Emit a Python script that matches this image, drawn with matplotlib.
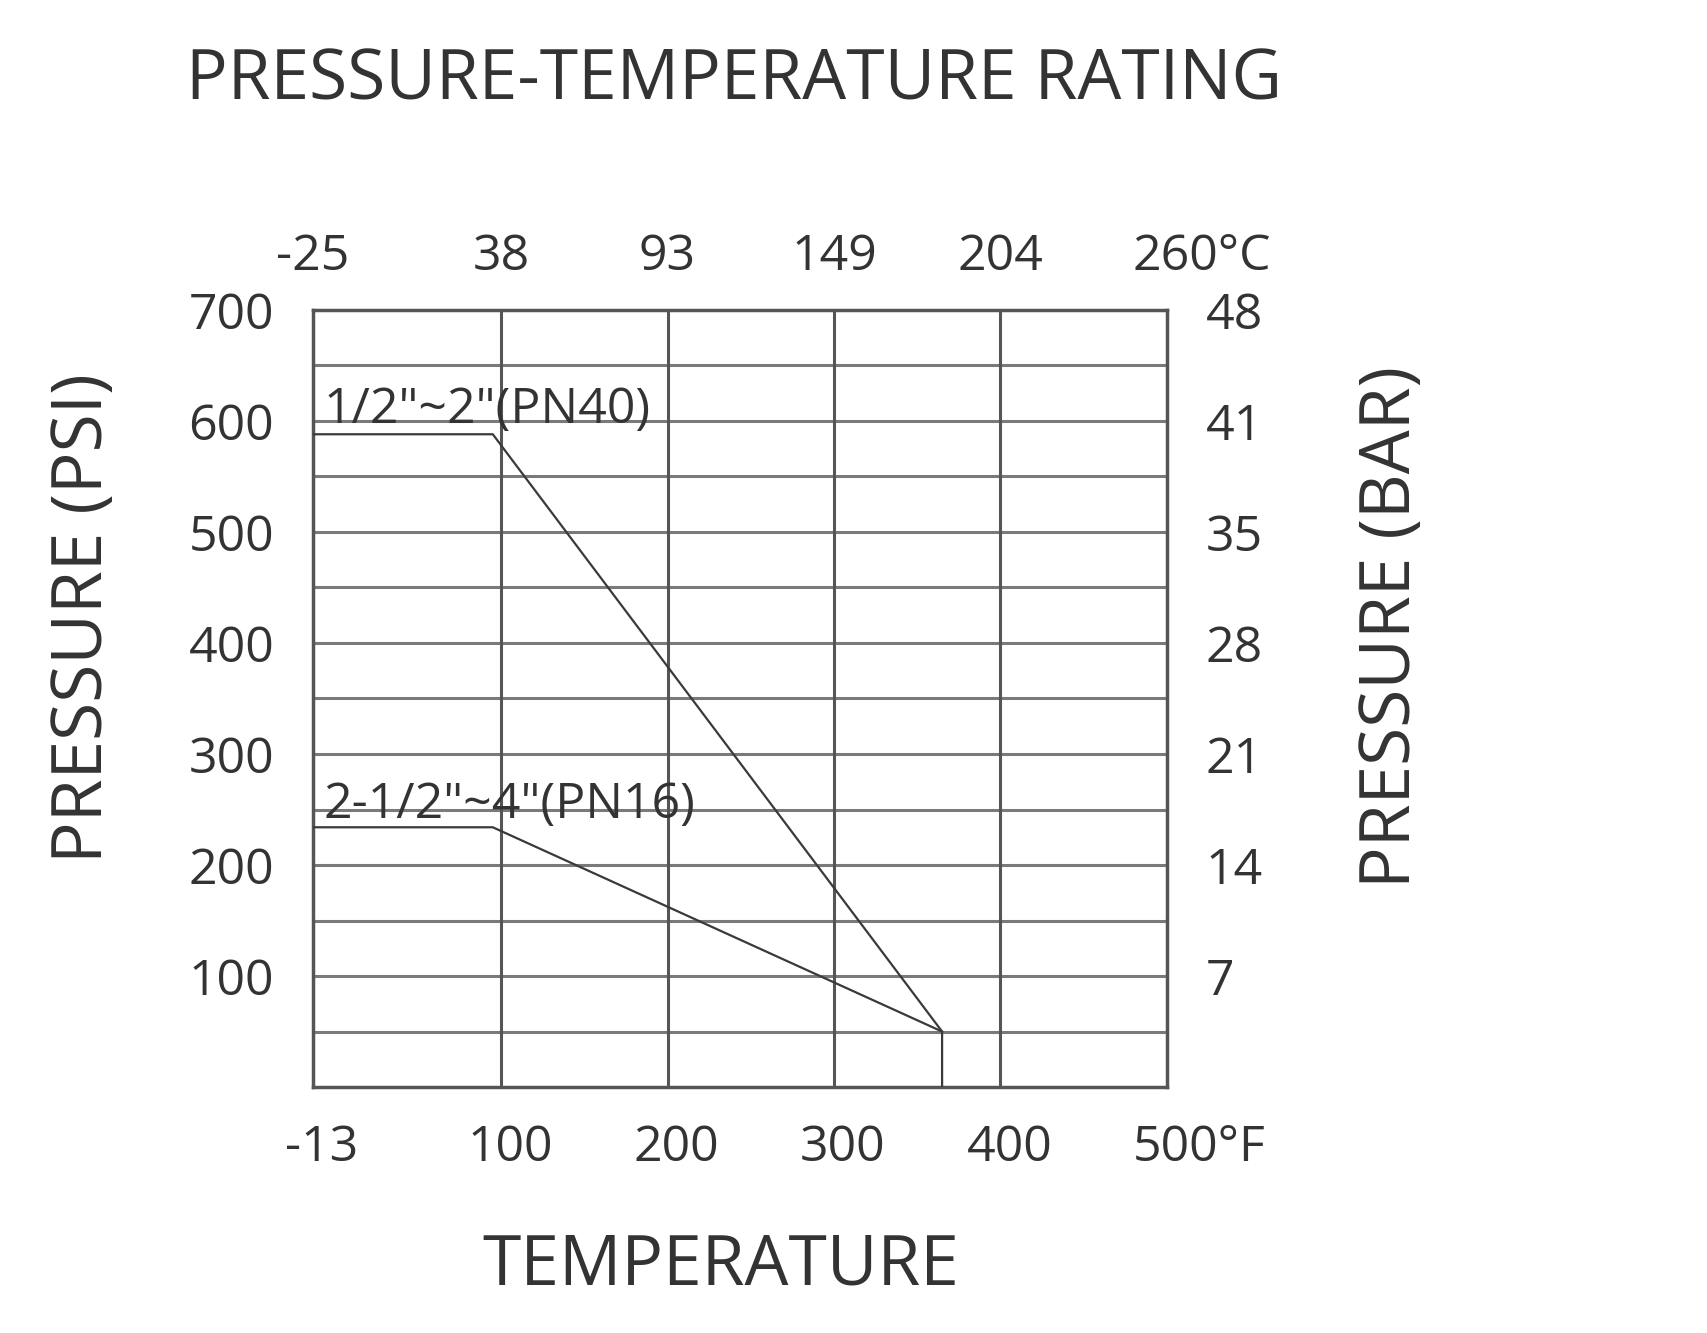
import matplotlib.pyplot as plt
import matplotlib.transforms as mtransforms
import numpy as np

plt.rcParams['font.family'] = ['Open Sans', 'DejaVu Sans']

# temperature (F) / pressure (psi) rating curves
pn40_temp = [-13, 95, 365, 365]
pn40_psi = [588, 588, 50, 0]
pn16_temp = [-13, 95, 365]
pn16_psi = [234, 234, 50]
pn40_label = '1/2"~2"(PN40)'
pn16_label = '2-1/2"~4"(PN16)'

f_ticks = [-13, 100, 200, 300, 400, 500]
f_labels = ["-13", "100", "200", "300", "400", "500°F"]
c_labels = ["-25", "38", "93", "149", "204", "260°C"]
psi_ticks = [100, 200, 300, 400, 500, 600, 700]
psi_labels = ["100", "200", "300", "400", "500", "600", "700"]
bar_labels = ["7", "14", "21", "28", "35", "41", "48"]

fig = plt.figure(figsize=(17.08, 13.33), dpi=100)
ax = fig.add_axes([0.1833, 0.1845, 0.4998, 0.583])
ax.set_xlim(-13, 500)
ax.set_ylim(0, 700)

# grid
for y in np.arange(50, 700, 50):
    ax.axhline(y, color="#7a7a7a", lw=2.2, zorder=1)
for x in f_ticks[1:-1]:
    ax.axvline(x, color="#555555", lw=2.2, zorder=1)
for s in ax.spines.values():
    s.set_color("#555555")
    s.set_linewidth(2.5)

ax.plot(pn40_temp, pn40_psi, color="#3a3a3a", lw=1.6, zorder=3)
ax.plot(pn16_temp, pn16_psi, color="#3a3a3a", lw=1.6, zorder=3)
ax.text(-7, 598, pn40_label, fontsize=36, color="#333333", va="baseline", zorder=4)
ax.text(-7, 242, pn16_label, fontsize=36, color="#333333", va="baseline", zorder=4)

tick_font = dict(fontsize=36, color="#333333")
ax.set_xticks(f_ticks, f_labels, **tick_font)
ax.set_yticks(psi_ticks, psi_labels, **tick_font)
ax.tick_params(axis="both", length=0)
ax.tick_params(axis="x", pad=26)
ax.tick_params(axis="y", pad=28)
for i, lab in enumerate(ax.get_xticklabels()):
    if i == len(f_ticks) - 1:
        lab.set_ha("left")
        off = -34 / 100
    else:
        off = 9 / 100
    lab.set_transform(lab.get_transform() + mtransforms.ScaledTranslation(off, 0, fig.dpi_scale_trans))

top = ax.secondary_xaxis("top")
top.set_xticks(f_ticks, c_labels, **tick_font)
top.tick_params(length=0, pad=20)
top.spines["top"].set_visible(False)
lab = top.get_xticklabels()[-1]
lab.set_ha("left")
lab.set_transform(lab.get_transform() + mtransforms.ScaledTranslation(-34 / 100, 0, fig.dpi_scale_trans))

right = ax.secondary_yaxis("right")
right.set_yticks(psi_ticks, bar_labels, **tick_font)
right.tick_params(length=0, pad=28)
right.spines["right"].set_visible(False)

fig.text(0.43, 0.939, "PRESSURE-TEMPERATURE RATING", fontsize=50, color="#333333",
         ha="center", va="center")
fig.text(0.422, 0.05, "TEMPERATURE", fontsize=50, color="#333333", ha="center", va="center")
fig.text(0.049, 0.536, "PRESSURE (PSI)", fontsize=50, color="#333333", ha="center",
         va="center", rotation=90)
fig.text(0.815, 0.53, "PRESSURE (BAR)", fontsize=50, color="#333333", ha="center",
         va="center", rotation=90)

fig.savefig("out.png", dpi=100, facecolor="white")
